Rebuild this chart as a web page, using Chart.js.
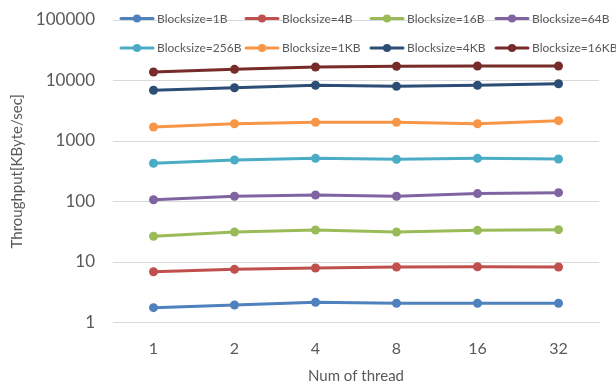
<!DOCTYPE html>
<html>
<head>
<meta charset="utf-8">
<script src="https://cdn.jsdelivr.net/npm/chart.js@4/dist/chart.umd.min.js"></script>
<style>
  html, body { margin: 0; padding: 0; background: #fff; }
  #wrap { width: 616px; height: 385px; }
</style>
</head>
<body>
<div id="wrap"><canvas id="c" width="616" height="385"></canvas></div>
<script>
// Thread counts on the x axis
const threads = ['1', '2', '4', '8', '16', '32'];

// Throughput per block size, KByte/sec
const bs1B   = [1.76, 1.95, 2.16, 2.08, 2.08, 2.08];
const bs4B   = [6.9, 7.57, 7.96, 8.27, 8.36, 8.27];
const bs16B  = [26.6, 31.3, 33.8, 31.3, 33.4, 34.2];
const bs64B  = [107, 122, 128, 122, 135, 140];
const bs256B = [428, 485, 517, 499, 517, 504];
const bs1KB  = [1703, 1932, 2038, 2038, 1932, 2166];
const bs4KB  = [6887, 7604, 8333, 8017, 8333, 8853];
const bs16KB = [13813, 15310, 16710, 17170, 17370, 17370];

// Log-axis tick values
const yTicks = [1, 10, 100, 1000, 10000, 100000];

const seriesNames  = ['Blocksize=1B', 'Blocksize=4B', 'Blocksize=16B', 'Blocksize=64B',
                      'Blocksize=256B', 'Blocksize=1KB', 'Blocksize=4KB', 'Blocksize=16KB'];
const seriesValues = [bs1B, bs4B, bs16B, bs64B, bs256B, bs1KB, bs4KB, bs16KB];
const seriesColors = ['#4F81BD', '#C0504D', '#9BBB59', '#8064A2',
                      '#4BACC6', '#F79646', '#2C4D75', '#772C2A'];

const FONT = 'Lato, "Open Sans", sans-serif';
const TEXT = '#595959';

// Two-row legend with fixed column spacing, drawn over the top of the plot
const gridLegend = {
  id: 'gridLegend',
  afterDraw(chart) {
    const ctx = chart.ctx;
    ctx.save();
    ctx.font = '12px ' + FONT;
    ctx.textBaseline = 'middle';
    ctx.textAlign = 'left';
    chart.data.datasets.forEach((ds, i) => {
      const col = i % 4, row = Math.floor(i / 4);
      const x0 = 120 + col * 125;
      const y = 18.5 + row * 29.5;
      ctx.strokeStyle = ds.borderColor;
      ctx.lineWidth = 3;
      ctx.lineCap = 'round';
      ctx.beginPath();
      ctx.moveTo(x0 + 1, y);
      ctx.lineTo(x0 + 33, y);
      ctx.stroke();
      ctx.fillStyle = ds.borderColor;
      ctx.beginPath();
      ctx.arc(x0 + 17, y, 4, 0, Math.PI * 2);
      ctx.fill();
      ctx.fillStyle = TEXT;
      ctx.fillText(ds.label, x0 + 37, y + 0.5);
    });
    ctx.restore();
  }
};

new Chart(document.getElementById('c'), {
  type: 'line',
  data: {
    labels: threads,
    datasets: seriesNames.map((name, i) => ({
      label: name,
      data: seriesValues[i],
      borderColor: seriesColors[i],
      backgroundColor: seriesColors[i],
      borderWidth: 3,
      pointRadius: 4.5,
      pointHoverRadius: 4.5,
      pointBorderWidth: 0,
      tension: 0
    }))
  },
  options: {
    responsive: false,
    animation: false,
    devicePixelRatio: 1,
    layout: { padding: { top: 20, right: 17, left: 0, bottom: 0 } },
    plugins: {
      legend: { display: false },
      tooltip: { enabled: false }
    },
    scales: {
      x: {
        type: 'category',
        offset: true,
        grid: { display: false, drawTicks: false },
        border: { display: true, color: '#D9D9D9', width: 1 },
        ticks: { color: TEXT, font: { family: FONT, size: 16 }, padding: 17 },
        title: {
          display: true, text: 'Num of thread', color: TEXT,
          font: { family: FONT, size: 15 }, padding: { top: 0, bottom: 0 }
        },
        afterFit(scale) {
          scale.height = 62.5;
          scale.paddingLeft = 0;
          scale.paddingRight = 0;
        }
      },
      y: {
        type: 'logarithmic',
        min: 1,
        max: 100000,
        afterBuildTicks(scale) { scale.ticks = yTicks.map(v => ({ value: v })); },
        grid: { color: '#D9D9D9', lineWidth: 1, drawTicks: false },
        border: { display: false },
        ticks: {
          color: TEXT, font: { family: FONT, size: 17 }, padding: 18,
          callback: (v) => String(v)
        },
        title: {
          display: true, text: 'Throughput[KByte/sec]', color: TEXT,
          font: { family: FONT, size: 15 }, padding: { top: 8, bottom: 0 }
        },
        afterFit(scale) {
          scale.width = 113;
          scale.paddingTop = 0;
          scale.paddingBottom = 0;
        }
      }
    }
  },
  plugins: [gridLegend]
});
</script>
</body>
</html>
